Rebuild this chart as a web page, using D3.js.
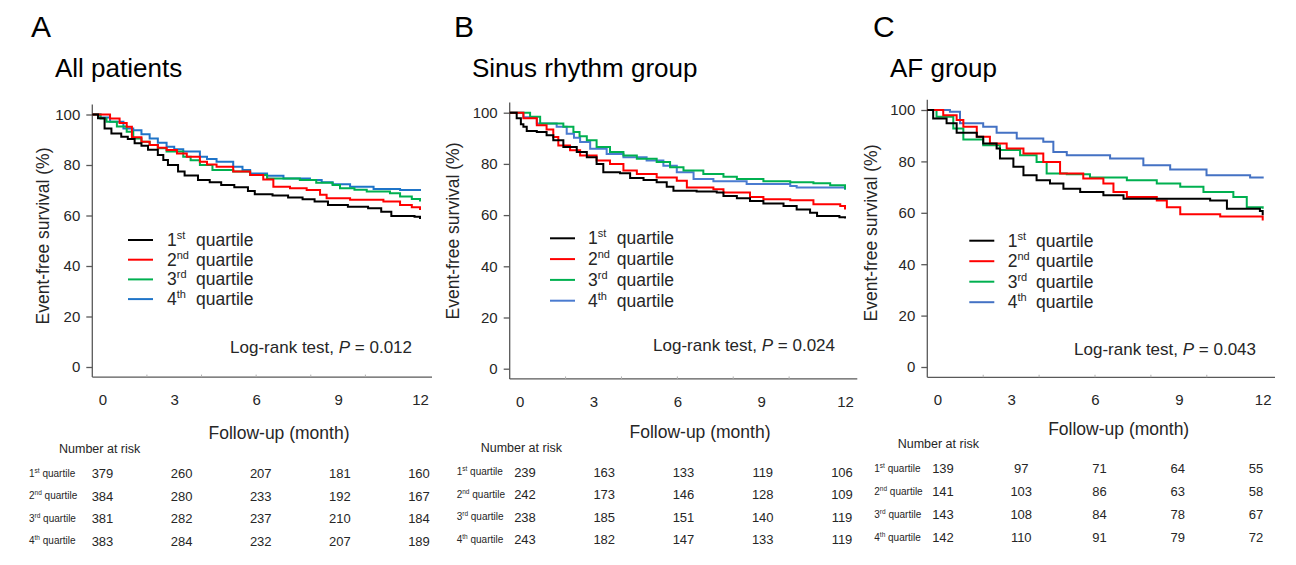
<!DOCTYPE html>
<meta charset="utf-8">
<style>
body { margin: 0; background: #fff; }
svg { display: block; font-family: "Liberation Sans", Arial, sans-serif; }
.axis-line { stroke: #595959; stroke-width: 1.3; }
.tick line { stroke: #595959; stroke-width: 1.3; }
.tick text { fill: #262626; font-size: 15px; }
.curve { fill: none; stroke-width: 2; }
</style>
<svg width="1296" height="565"></svg>
<script src="https://d3js.org/d3.v7.min.js"></script>
<script>

// follow-up months shown on the x axis and in the risk tables
var months = [0, 3, 6, 9, 12];
var minorMonths = [2, 4, 6, 8, 10];
var yTicks = [0, 20, 40, 60, 80, 100];
var quartiles = [["1", "st"], ["2", "nd"], ["3", "rd"], ["4", "th"]];
var letters = ["A", "B", "C"];
var titles = ["All patients", "Sinus rhythm group", "AF group"];
var pValues = ["0.012", "0.024", "0.043"];

// Kaplan-Meier steps, [month, survival %]
var allQ1 = [[0,100],[0.21,98.5],[0.45,94.5],[0.7,92.5],[1.06,91.2],[1.3,90.3],[1.55,88.6],[1.8,87.6],[2.04,86],[2.4,84],[2.6,82],[2.77,80],[3.14,77.4],[3.38,75.8],[3.87,74.1],[4.3,73.2],[4.72,72.1],[5.2,71.2],[5.7,69.7],[5.95,68.4],[6.6,67.9],[7.17,67.1],[7.7,66.4],[8.14,65.5],[8.63,64.2],[9.36,63.5],[10.1,62.9],[10.58,61.5],[10.95,59.8],[11.8,59.5],[12,58.6]];
var allQ2 = [[0,100],[0.65,98.4],[1.0,96.6],[1.26,95.1],[1.45,91],[1.8,89.2],[2.1,87.9],[2.4,86.8],[2.72,85.9],[3.1,84.6],[3.46,83.3],[3.94,81.3],[4.2,80.2],[4.55,79.3],[5.16,77.4],[5.78,76],[6.26,74.3],[6.63,71.4],[7.24,70.8],[7.85,70.1],[8.34,68.2],[8.58,66.8],[9.44,66.2],[10.66,65.5],[11.27,64.2],[11.7,63.3],[12,62.2]];
var allQ3 = [[0,100],[0.3,98.4],[0.52,97.1],[0.9,95.2],[1.26,93.2],[1.5,90.5],[1.8,89.2],[2.1,87.9],[2.4,86.6],[2.72,85.3],[3.33,83.3],[3.6,81.9],[3.94,80],[4.4,78],[5.16,77.4],[5.78,76],[6.4,74.7],[7.6,74.1],[8.2,73],[8.8,72.1],[9.07,70.8],[9.6,70.2],[10.05,69.5],[10.9,68.8],[11.27,67.5],[11.7,66.5],[12,65.5]];
var allQ4 = [[0,100],[0.3,98.8],[0.65,97.1],[1.14,94.5],[1.5,93.8],[1.8,92.2],[2.1,90.5],[2.4,88.8],[2.72,87.2],[3.0,86.2],[3.33,85.3],[3.94,83.3],[4.2,82.4],[4.55,81.3],[5.16,79.3],[5.5,78],[5.78,76.6],[6.4,75.7],[7.0,74.7],[7.97,74.1],[8.4,73.2],[8.8,72.4],[9.44,71.4],[10.3,70.5],[11.27,70.1],[12,69.7]];

var sinusQ1 = [[0,100],[0.25,97.8],[0.4,95.5],[0.49,94.5],[0.61,92.9],[0.97,92.5],[1.32,91.2],[1.56,89.2],[1.92,86.6],[2.4,84.6],[2.76,82.6],[3.11,80],[3.35,76.7],[3.95,76.3],[4.31,74.5],[4.79,73.7],[5.26,72.8],[5.62,71.1],[5.86,69.5],[6.69,69.2],[7.41,68.8],[7.65,67.5],[8.13,66.6],[8.6,65.5],[9.08,64.5],[9.8,63.6],[10.27,62.2],[10.75,60.9],[11.0,59.6],[11.8,59.2],[12,58.7]];
var sinusQ2 = [[0,100],[0.49,97.8],[0.97,95.1],[1.32,93.4],[1.56,90.5],[1.74,87.2],[2.16,85.3],[2.52,83.3],[3.11,81.3],[3.59,80],[4.07,77.4],[4.55,76.1],[5.26,74.7],[5.98,73.4],[6.34,70.8],[7.29,70.1],[7.65,68.8],[8.6,67.1],[9.08,66.2],[10.04,65.8],[10.87,64.2],[11.83,63.6],[12,62.2]];
var sinusQ3 = [[0,100],[0.73,98.4],[1.09,95.8],[1.92,94.5],[2.28,92.5],[2.5,90.8],[2.76,89.2],[3.11,86.6],[3.59,84.6],[4.07,83.3],[4.55,82],[5.26,80.7],[5.74,78.7],[6.22,77.4],[6.93,76.1],[7.65,75],[8.13,74.1],[9.08,73.2],[10.04,72.8],[10.87,72.4],[11.47,71.7],[12,70.1]];
var sinusQ4 = [[0,100],[0.49,98.2],[0.97,95.8],[1.68,94.5],[2.04,91.8],[2.3,90.2],[2.52,88.6],[2.88,85.9],[3.47,83.9],[4.07,82.6],[4.9,81.3],[5.5,79.3],[5.98,76.7],[6.58,74.1],[7.29,73.2],[8.48,72.1],[10.04,71.4],[10.27,70.8],[12,69.9]];

var afQ1 = [[0,100],[0.21,96.7],[0.69,94.8],[1.05,91.1],[1.53,91.1],[1.77,89.6],[2.0,87],[2.48,85],[2.6,81.1],[3.08,77.9],[3.44,74.6],[3.91,72.7],[4.39,71.4],[4.87,69.4],[5.47,68.1],[6.3,66.8],[7.02,65.5],[10.12,64.8],[10.72,61.6],[11.9,60.7],[12,59]];
var afQ2 = [[0,100],[0.57,98],[1.05,96.1],[1.29,93.5],[1.77,89.6],[2.24,87],[2.84,85],[3.44,83.1],[4.15,79.8],[4.75,75.3],[5.58,73.3],[6.3,71.4],[6.66,68.1],[7.14,66.1],[8.21,64.8],[8.57,62.2],[9.05,59.4],[10.48,58.6],[12,57]];
var afQ3 = [[0,100],[0.33,97.4],[0.93,92.8],[1.29,88.5],[2.0,86.3],[2.6,84.4],[3.32,82.4],[3.91,79.8],[4.27,75.3],[4.99,75],[5.82,73.7],[7.14,72.7],[8.21,71.4],[9.05,70.1],[9.88,68.1],[10.95,66.1],[11.43,62.2],[12,61.6]];
var afQ4 = [[0,100],[0.81,99.3],[1.17,94.8],[2.0,93.5],[2.48,91.1],[3.2,88.9],[4.15,87.6],[4.51,83.7],[4.99,82.4],[6.54,81.1],[7.73,78.5],[8.69,76.8],[9.99,74.6],[11.55,73.7],[12,73.3]];

// number at risk, one row per quartile, one column per month
var riskAll = [[379, 260, 207, 181, 160], [384, 280, 233, 192, 167], [381, 282, 237, 210, 184], [383, 284, 232, 207, 189]];
var riskSinus = [[239, 163, 133, 119, 106], [242, 173, 146, 128, 109], [238, 185, 151, 140, 119], [243, 182, 147, 133, 119]];
var riskAF = [[139, 97, 71, 64, 55], [141, 103, 86, 63, 58], [143, 108, 84, 78, 67], [142, 110, 91, 79, 72]];

var svg = d3.select("svg");

var panels = [
  { series: [allQ1, allQ2, allQ3, allQ4], risk: riskAll, colors: ["#000000", "#ff0000", "#00b050", "#1f74c8"],
    letterX: 31, titleX: 55, x0: 92.3, x12: 420, y0: 367, y100: 114.5,
    yLabelX: 43, yLabelY: 236, legX: 128, legY: 240, legDy: 19.7, legTextX: 167, legQX: 196,
    pX: 412, pY: 353, followX: 279, followY: 439, narX: 59, narY: 453,
    rowX: 29, rowY: 473, rowDy: 22.5, col0: 102.5, col12: 419 },
  { series: [sinusQ1, sinusQ2, sinusQ3, sinusQ4], risk: riskSinus, colors: ["#000000", "#ff0000", "#00b050", "#4a7bd0"],
    letterX: 454, titleX: 472, x0: 509.7, x12: 845, y0: 368.7, y100: 112.7,
    yLabelX: 453, yLabelY: 231, legX: 550, legY: 238.3, legDy: 20.8, legTextX: 588, legQX: 616.7,
    pX: 835, pY: 351, followX: 700, followY: 438, narX: 480.7, narY: 451.7,
    rowX: 456.7, rowY: 471.7, rowDy: 22.5, col0: 525, col12: 842 },
  { series: [afQ1, afQ2, afQ3, afQ4], risk: riskAF, colors: ["#000000", "#ff0000", "#00b050", "#4472c4"],
    letterX: 873, titleX: 890, x0: 927.3, x12: 1262.7, y0: 367, y100: 110,
    yLabelX: 870.7, yLabelY: 233, legX: 969.3, legY: 240.7, legDy: 20.5, legTextX: 1007.7, legQX: 1036,
    pX: 1256, pY: 355, followX: 1118.7, followY: 435, narX: 897.7, narY: 448.3,
    rowX: 874.3, rowY: 468.3, rowDy: 23, col0: 943, col12: 1256 }
];

panels.forEach(function(p, i) { drawPanel(p, i); });

function drawPanel(p, i) {
  var g = svg.append("g");
  var x = d3.scaleLinear().domain([0, 12]).range([p.x0, p.x12]);
  var y = d3.scaleLinear().domain([0, 100]).range([p.y0, p.y100]);

  // headings
  g.append("text").attr("x", p.letterX).attr("y", 37).attr("font-size", 30).attr("fill", "#000").text(letters[i]);
  g.append("text").attr("x", p.titleX).attr("y", 77).attr("font-size", 26).attr("fill", "#000").text(titles[i]);

  // axis lines, a bit past the data range
  g.append("line").attr("class", "axis-line")
    .attr("x1", x(0)).attr("x2", x(0)).attr("y1", y(104)).attr("y2", y(-4));
  g.append("line").attr("class", "axis-line")
    .attr("x1", x(0)).attr("x2", x(12.44)).attr("y1", y(-4)).attr("y2", y(-4));

  var yAxis = g.append("g")
    .attr("transform", "translate(" + x(0) + ",0)")
    .call(d3.axisLeft(y).tickValues(yTicks).tickSize(6).tickPadding(6));
  yAxis.select(".domain").remove();

  var xAxis = g.append("g")
    .attr("transform", "translate(0," + y(-4) + ")")
    .call(d3.axisBottom(x).tickValues(months).tickSize(0).tickPadding(17));
  xAxis.select(".domain").remove();
  // the 0 label sits a little right of the axis in the original
  xAxis.selectAll(".tick text").attr("dx", function(d) { return d === 0 ? 10 : 0; });

  // faint minor ticks every 2 months
  g.selectAll(".minor").data(minorMonths).enter().append("line")
    .attr("x1", function(d) { return x(d); }).attr("x2", function(d) { return x(d); })
    .attr("y1", y(-4)).attr("y2", y(-4) - 2.5)
    .attr("stroke", "#b0b0b0").attr("stroke-width", 1);

  g.append("text")
    .attr("transform", "translate(" + p.yLabelX + "," + p.yLabelY + ") rotate(-90)")
    .attr("text-anchor", "middle").attr("dy", "0.35em")
    .attr("font-size", 17.5).attr("fill", "#262626")
    .text("Event-free survival (%)");

  var line = d3.line()
    .curve(d3.curveStepAfter)
    .x(function(d) { return x(d[0]); })
    .y(function(d) { return y(d[1]); });

  // draw 4th first so black ends up on top
  [3, 2, 1, 0].forEach(function(k) {
    g.append("path").attr("class", "curve")
      .attr("stroke", p.colors[k])
      .attr("d", line(p.series[k]));
  });

  // legend
  quartiles.forEach(function(q, k) {
    var ly = p.legY + k * p.legDy;
    g.append("line").attr("x1", p.legX).attr("x2", p.legX + 25).attr("y1", ly).attr("y2", ly)
      .attr("stroke", p.colors[k]).attr("stroke-width", 2);
    var t = g.append("text").attr("x", p.legTextX).attr("y", ly + 6).attr("font-size", 17.5).attr("fill", "#262626");
    t.append("tspan").text(q[0]);
    t.append("tspan").attr("font-size", 11).attr("dy", -7).text(q[1]);
    t.append("tspan").attr("x", p.legQX).attr("dy", 7).text("quartile");
  });

  // log-rank
  var lr = g.append("text").attr("x", p.pX).attr("y", p.pY).attr("text-anchor", "end")
    .attr("font-size", 17).attr("fill", "#262626");
  lr.append("tspan").text("Log-rank test, ");
  lr.append("tspan").attr("font-style", "italic").text("P");
  lr.append("tspan").text(" = " + pValues[i]);

  // number at risk table
  g.append("text").attr("x", p.followX).attr("y", p.followY).attr("text-anchor", "middle")
    .attr("font-size", 17.5).attr("fill", "#262626").text("Follow-up (month)");
  g.append("text").attr("x", p.narX).attr("y", p.narY)
    .attr("font-size", 12.5).attr("fill", "#262626").text("Number at risk");

  var col = d3.scalePoint().domain(months).range([p.col0, p.col12]);

  p.risk.forEach(function(row, k) {
    var ry = p.rowY + k * p.rowDy;
    var lab = g.append("text").attr("x", p.rowX).attr("y", ry + 3.5).attr("font-size", 10).attr("fill", "#262626");
    lab.append("tspan").text(quartiles[k][0]);
    lab.append("tspan").attr("font-size", 6.5).attr("dy", -4).text(quartiles[k][1]);
    lab.append("tspan").attr("dy", 4).text(" quartile");

    g.selectAll(null).data(row).enter().append("text")
      .attr("x", function(d, j) { return col(months[j]); })
      .attr("y", ry + 5)
      .attr("text-anchor", "middle")
      .attr("font-size", 13).attr("fill", "#262626")
      .text(function(d) { return d; });
  });
}

</script>
